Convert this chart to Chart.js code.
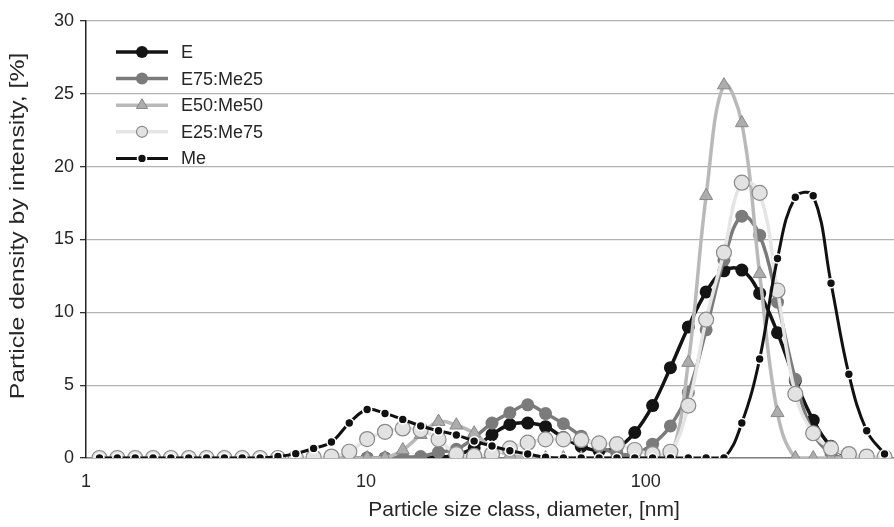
<!DOCTYPE html>
<html>
<head>
<meta charset="utf-8">
<title>Particle size distribution by intensity</title>
<script src="https://cdn.jsdelivr.net/npm/chart.js@4.4.1/dist/chart.umd.min.js"></script>
<style>
  html, body { margin: 0; padding: 0; background: #ffffff; }
  #chart { display: block; }
</style>
</head>
<body>
<canvas id="chart" width="894" height="527"></canvas>
<script>
// size classes (nm), one point per class
const sizeClasses = [1.117, 1.294, 1.499, 1.736, 2.01, 2.328, 2.696, 3.122, 3.615, 4.187,
  4.849, 5.615, 6.503, 7.531, 8.721, 10.1, 11.7, 13.54, 15.69, 18.17,
  21.04, 24.36, 28.21, 32.67, 37.84, 43.82, 50.75, 58.77, 68.06, 78.82,
  91.28, 105.7, 122.4, 141.8, 164.2, 190.1, 220.2, 255, 295.3, 342,
  396.1, 458.7, 531.2, 615.1, 712.4];

const seriesNames = ['E', 'E75:Me25', 'E50:Me50', 'E25:Me75', 'Me'];

const valuesE = [0, 0, 0, 0, 0, 0, 0, 0, 0, 0,
  0, 0, 0, 0, 0, 0, 0, 0, 0, 0.05,
  0.2, 0.7, 1.6, 2.3, 2.4, 2.15, 1.4, 0.8, 0.5, 0.7,
  1.75, 3.6, 6.2, 9.0, 11.4, 12.85, 12.9, 11.3, 8.6, 5.3,
  2.6, 0.8, 0.1, 0, 0];

const valuesE75Me25 = [0, 0, 0, 0, 0, 0, 0, 0, 0, 0,
  0, 0, 0, 0, 0, 0, 0, 0.07, 0.1, 0.4,
  0.6, 1.4, 2.4, 3.1, 3.65, 3.05, 2.35, 1.5, 0.8, 0.3,
  0.3, 0.95, 2.2, 4.5, 8.8, 13.6, 16.6, 15.3, 10.7, 5.4,
  1.7, 0.3, 0, 0, 0];

const valuesE50Me50 = [0, 0, 0, 0, 0, 0, 0, 0, 0, 0,
  0, 0, 0, 0, 0, 0, 0, 0.55, 1.6, 2.5,
  2.25, 1.7, 0.7, 0.2, 0.05, 0, 0, 0, 0, 0,
  0, 0, 0, 6.55, 18.0, 25.6, 23.0, 12.65, 3.1, 0,
  0, 0, 0, 0, 0];

const valuesE25Me75 = [0, 0, 0, 0, 0, 0, 0, 0, 0, 0,
  0, 0, 0.05, 0.1, 0.43, 1.3, 1.8, 2.03, 1.92, 1.28,
  0.27, 0.14, 0.27, 0.66, 1.05, 1.28, 1.28, 1.24, 1.0, 0.95,
  0.55, 0.27, 0.43, 3.6, 9.5, 14.1, 18.9, 18.2, 11.5, 4.4,
  1.7, 0.66, 0.27, 0.1, 0.05];

const valuesMe = [0, 0, 0, 0, 0, 0, 0, 0, 0, 0,
  0.1, 0.3, 0.66, 1.1, 2.4, 3.33, 3.06, 2.65, 2.2, 1.87,
  1.58, 1.16, 0.82, 0.5, 0.27, 0.05, 0, 0, 0, 0,
  0, 0, 0, 0, 0, 0, 2.4, 6.8, 13.7, 17.9,
  18.0, 12.0, 5.75, 1.87, 0.27];

const xTickValues = [1, 10, 100];
const yTickValues = [0, 5, 10, 15, 20, 25, 30];
const xTitle = 'Particle size class, diameter, [nm]';
const yTitle = 'Particle density by intensity, [%]';

const FONT = '"Liberation Sans", Arial, sans-serif';
const TEXT_COLOR = '#262626';

const toPoints = (values) => values.map((v, i) => ({ x: sizeClasses[i], y: v }));

// look of each series, same order as seriesNames
const seriesStyles = [
  { line: '#141414', width: 3.5, pointStyle: 'circle', radius: 6.5, fill: '#141414', stroke: '#141414', strokeWidth: 0, order: 5 },
  { line: '#7b7b7b', width: 3.5, pointStyle: 'circle', radius: 6.5, fill: '#7b7b7b', stroke: '#7b7b7b', strokeWidth: 0, order: 4 },
  { line: '#b9b9b9', width: 3.5, pointStyle: 'triangle', radius: 7.5, fill: '#adadad', stroke: '#888888', strokeWidth: 1, order: 3 },
  { line: '#e5e5e5', width: 3.5, pointStyle: 'circle', radius: 7.5, fill: '#e2e2e2', stroke: '#8a8a8a', strokeWidth: 1.2, order: 2 },
  { line: '#111111', width: 3, pointStyle: 'circle', radius: 4.5, fill: '#111111', stroke: '#ffffff', strokeWidth: 1.6, order: 1 }
];
const seriesValues = [valuesE, valuesE75Me25, valuesE50Me50, valuesE25Me75, valuesMe];

const datasets = seriesNames.map((name, i) => {
  const s = seriesStyles[i];
  return {
    label: name,
    data: toPoints(seriesValues[i]),
    borderColor: s.line,
    borderWidth: s.width,
    tension: 0.4,
    fill: false,
    pointStyle: s.pointStyle,
    pointRadius: s.radius,
    pointBackgroundColor: s.fill,
    pointBorderColor: s.stroke,
    pointBorderWidth: s.strokeWidth,
    order: s.order
  };
});

// legend sits inside the plot area: short line with the marker in the middle
const insideLegend = {
  id: 'insideLegend',
  afterDraw(chart) {
    const ctx = chart.ctx;
    const x0 = 116, x1 = 168, top = 52, step = 26.6;
    const legendRadius = [6, 6, 6.5, 5.5, 4.5];
    ctx.save();
    seriesNames.forEach((name, i) => {
      const s = seriesStyles[i];
      const y = top + i * step;
      ctx.strokeStyle = s.line;
      ctx.lineWidth = s.width;
      ctx.beginPath();
      ctx.moveTo(x0, y);
      ctx.lineTo(x1, y);
      ctx.stroke();
      ctx.fillStyle = s.fill;
      ctx.strokeStyle = s.stroke;
      ctx.lineWidth = s.strokeWidth;
      Chart.helpers.drawPoint(ctx, {
        pointStyle: s.pointStyle,
        radius: legendRadius[i],
        rotation: 0,
        borderWidth: s.strokeWidth
      }, (x0 + x1) / 2, y);
      ctx.fillStyle = TEXT_COLOR;
      ctx.font = '18px ' + FONT;
      ctx.textAlign = 'left';
      ctx.textBaseline = 'middle';
      ctx.fillText(name, 181, y + 1);
    });
    ctx.restore();
  }
};

// axis titles, placed like the original (x title is not centred on the plot,
// the y title runs a bit longer than the x one)
const axisTitles = {
  id: 'axisTitles',
  afterDraw(chart) {
    const ctx = chart.ctx;
    ctx.save();
    ctx.fillStyle = TEXT_COLOR;
    ctx.font = '21px ' + FONT;
    ctx.textAlign = 'center';
    ctx.textBaseline = 'middle';
    ctx.fillText(xTitle, 524, 510);
    ctx.translate(18, 226);
    ctx.rotate(-Math.PI / 2);
    ctx.scale(1.18, 1);
    ctx.fillText(yTitle, 0, 0);
    ctx.restore();
  }
};

new Chart(document.getElementById('chart'), {
  type: 'line',
  data: { datasets },
  plugins: [insideLegend, axisTitles],
  options: {
    responsive: false,
    animation: false,
    events: [],
    layout: { autoPadding: false, padding: { top: 21, right: 0, bottom: 0, left: 0 } },
    plugins: {
      legend: { display: false },
      tooltip: { enabled: false }
    },
    scales: {
      x: {
        type: 'logarithmic',
        min: 1,
        max: 770,
        afterBuildTicks: (scale) => { scale.ticks = xTickValues.map(v => ({ value: v })); },
        afterFit: (scale) => { scale.height = 69; scale.paddingLeft = 0; scale.paddingRight = 0; },
        ticks: {
          autoSkip: false,
          maxRotation: 0,
          padding: 13,
          color: TEXT_COLOR,
          font: { family: FONT, size: 18 },
          callback: (v) => String(v)
        },
        grid: { display: false, drawTicks: false },
        border: { display: true, color: '#808080', width: 1.5 }
      },
      y: {
        min: 0,
        max: 30,
        afterBuildTicks: (scale) => { scale.ticks = yTickValues.map(v => ({ value: v })); },
        afterFit: (scale) => { scale.width = 86; scale.paddingTop = 0; scale.paddingBottom = 0; },
        ticks: {
          padding: 6,
          color: TEXT_COLOR,
          font: { family: FONT, size: 18 }
        },
        grid: { color: '#b3b3b3', lineWidth: 1.3, tickColor: '#333333', tickLength: 6 },
        border: { display: true, color: '#222222', width: 1.5 }
      }
    }
  }
});
</script>
</body>
</html>
